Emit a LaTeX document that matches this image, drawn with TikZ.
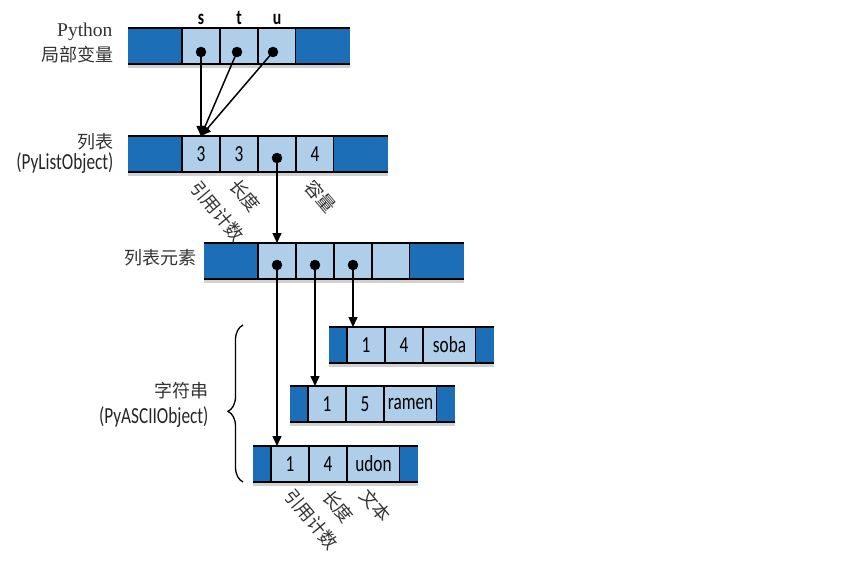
\documentclass[tikz,border=0pt]{standalone}
\usepackage{fontspec}
\usetikzlibrary{positioning,arrows.meta,decorations.pathreplacing}
\setsansfont{Carlito}[FakeStretch=0.75]
\newfontfamily\cjk{Noto Sans CJK SC}
\newfontfamily\pyfont{Liberation Serif}
\definecolor{darkcell}{RGB}{28,111,183}
\definecolor{palecell}{RGB}{174,206,234}

\begin{document}
\begin{tikzpicture}[x=1pt, y=-1pt,
        font=\sffamily\fontsize{23}{23}\selectfont,
        dark/.style={fill=darkcell, minimum width=54, minimum height=36, inner sep=0, outer sep=0},
        darkend/.style={dark, minimum width=18},
        pale/.style={fill=palecell, draw=black, line width=1.6pt, minimum width=38, minimum height=36, inner sep=0, outer sep=0},
        wide/.style={pale, minimum width=53},
        rim/.style={line width=2.2pt},
        barshade/.style={line width=3pt, black!18},
        ptr/.style={draw, shape=circle, fill=black, minimum size=10, inner sep=0},
        arr/.style={line width=1.5pt, -{Triangle[length=10pt, width=9pt]}},
        cn/.style={font=\cjk\fontsize{18}{21}\selectfont, text=black!80},
        tag/.style={cn, rotate=-50, anchor=west}]
            \useasboundingbox (0, 0) rectangle (848, 580);

            % python locals
            \node (a1) at (155, 46) [dark] {};
            \node (a2) [pale, right=0pt of a1] {};
            \node (a3) [pale, right=0pt of a2] {};
            \node (a4) [pale, right=0pt of a3] {};
            \node (a5) [dark, right=0pt of a4] {};
            \draw[barshade] ([yshift=-2.5pt]a1.south west) -- ([yshift=-2.5pt]a5.south east);
            \draw[rim] (a1.north west) -- (a5.north east);
            \draw[rim] (a1.south west) -- (a5.south east);

            \node (ls) at (201, 25) [anchor=base, font=\sffamily\bfseries\fontsize{21}{21}\selectfont] {s};
            \node (lt) at (239, 25) [anchor=base, font=\sffamily\bfseries\fontsize{21}{21}\selectfont] {t};
            \node (lu) at (277, 25) [anchor=base, font=\sffamily\bfseries\fontsize{21}{21}\selectfont] {u};

            % list object
            \node (b1) at (155, 154) [dark] {};
            \node (b2) [pale, right=0pt of b1] {3};
            \node (b3) [pale, right=0pt of b2] {3};
            \node (b4) [pale, right=0pt of b3] {};
            \node (b5) [pale, right=0pt of b4] {4};
            \node (b6) [dark, right=0pt of b5] {};
            \draw[barshade] ([yshift=-2.5pt]b1.south west) -- ([yshift=-2.5pt]b6.south east);
            \draw[rim] (b1.north west) -- (b6.north east);
            \draw[rim] (b1.south west) -- (b6.south east);

            % list items
            \node (c1) at (231, 261) [dark] {};
            \node (c2) [pale, right=0pt of c1] {};
            \node (c3) [pale, right=0pt of c2] {};
            \node (c4) [pale, right=0pt of c3] {};
            \node (c5) [pale, right=0pt of c4] {};
            \node (c6) [dark, right=0pt of c5] {};
            \draw[barshade] ([yshift=-2.5pt]c1.south west) -- ([yshift=-2.5pt]c6.south east);
            \draw[rim] (c1.north west) -- (c6.north east);
            \draw[rim] (c1.south west) -- (c6.south east);

            % strings
            \node (s1) at (338, 345) [darkend] {};
            \node (s2) [pale, right=0pt of s1] {1};
            \node (s3) [pale, right=0pt of s2] {4};
            \node (s4) [wide, right=0pt of s3] {soba};
            \node (s5) [darkend, right=0pt of s4] {};
            \draw[barshade] ([yshift=-2.5pt]s1.south west) -- ([yshift=-2.5pt]s5.south east);
            \draw[rim] (s1.north west) -- (s5.north east);
            \draw[rim] (s1.south west) -- (s5.south east);

            \node (r1) at (299, 404) [darkend] {};
            \node (r2) [pale, right=0pt of r1] {1};
            \node (r3) [pale, right=0pt of r2] {5};
            \node (r4) [wide, right=0pt of r3] {ramen};
            \node (r5) [darkend, right=0pt of r4] {};
            \draw[barshade] ([yshift=-2.5pt]r1.south west) -- ([yshift=-2.5pt]r5.south east);
            \draw[rim] (r1.north west) -- (r5.north east);
            \draw[rim] (r1.south west) -- (r5.south east);

            \node (u1) at (262, 464) [darkend] {};
            \node (u2) [pale, right=0pt of u1] {1};
            \node (u3) [pale, right=0pt of u2] {4};
            \node (u4) [wide, right=0pt of u3] {udon};
            \node (u5) [darkend, right=0pt of u4] {};
            \draw[barshade] ([yshift=-2.5pt]u1.south west) -- ([yshift=-2.5pt]u5.south east);
            \draw[rim] (u1.north west) -- (u5.north east);
            \draw[rim] (u1.south west) -- (u5.south east);

            % pointers
            \node (p1) at (201, 52) [ptr] {};
            \node (p2) at (237, 52) [ptr] {};
            \node (p3) at (273, 52) [ptr] {};
            \node (q1) at (277, 158) [ptr] {};
            \node (e1) at (277, 265) [ptr] {};
            \node (e2) at (315, 265) [ptr] {};
            \node (e3) at (353, 265) [ptr] {};

            \draw[arr] (p1.center) -- (b2.north);
            \draw[arr] (p2.center) -- (b2.north);
            \draw[arr] (p3.center) -- (b2.north);
            \draw[arr] (q1.center) -- (c2.north);
            \draw[arr] (e1.center) -- (e1 |- u1.north);
            \draw[arr] (e2.center) -- (e2 |- r1.north);
            \draw[arr] (e3.center) -- (e3 |- s1.north);

            % labels
            \node (l1) at (116, 37) [anchor=base east, font=\pyfont\fontsize{19.5}{19.5}\selectfont, text=black!80] {Python};
            \node (l2) at (117, 55) [cn, anchor=east] {局部变量};
            \node (l3) at (117, 142) [cn, anchor=east] {列表};
            \node (l4) at (117, 163) [anchor=east, text=black!85] {(PyListObject)};
            \node (l5) at (200, 258) [cn, anchor=east] {列表元素};
            \node (l6) at (212, 391) [cn, anchor=east] {字符串};
            \node (l7) at (212, 417) [anchor=east, text=black!85] {(PyASCIIObject)};

            \node (t1) at (192, 181) [tag] {引用计数};
            \node (t2) at (231, 179) [tag] {长度};
            \node (t3) at (307, 180) [tag] {容量};
            \node (t4) at (286, 489) [tag] {引用计数};
            \node (t5) at (324, 490) [tag] {长度};
            \node (t6) at (362, 489) [tag] {文本};

            \coordinate (bb) at (243, 482);
            \coordinate (bt) at (243, 325);
            \draw[line width=1.3pt, decorate, decoration={brace, amplitude=15pt, aspect=0.45}] (bb) -- (bt);

        \end{tikzpicture}
\end{document}
